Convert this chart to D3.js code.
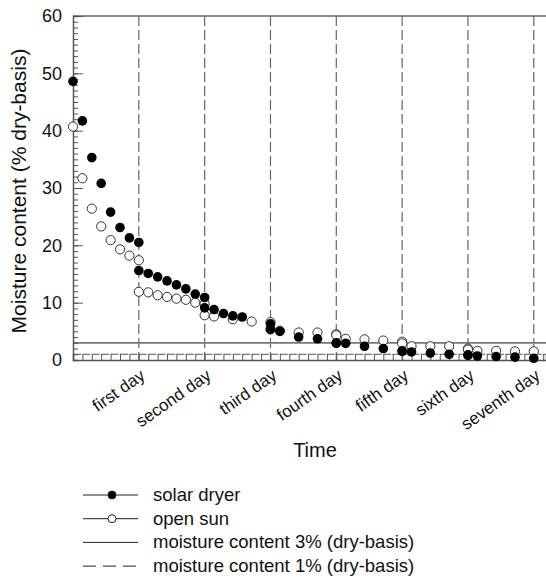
<!DOCTYPE html>
<html>
<head>
<meta charset="utf-8">
<script src="https://cdn.jsdelivr.net/npm/d3@7/dist/d3.min.js"></script>
<style>body{margin:0;background:#fff}</style>
</head>
<body>
<div id="chart"></div>
<script>
// time in hours of drying (7 readings per day), moisture in % dry-basis
const solarHour = [0,1,2,3,4,5,6,7, 7,8,9,10,11,12,13,14, 14,15,16,17,18,21, 21,22,24,26,28, 28,29,31,33,35, 35,36,38,40,42, 42,43,45,47,49];
const solarMoisture = [48.6,41.7,35.3,30.8,25.8,23.1,21.3,20.5, 15.6,15.1,14.5,13.8,13.1,12.4,11.5,10.9, 9.1,8.8,8.1,7.7,7.5,6.3, 5.3,5.0,4.0,3.7,3.0, 2.9,2.9,2.4,2.0,1.6, 1.5,1.4,1.2,1.0,0.9, 0.8,0.7,0.6,0.5,0.3];
const sunHour = [0,1,2,3,4,5,6,7, 7,8,9,10,11,12,13,14, 14,15,17,19,21, 21,22,24,26,28, 28,29,31,33,35, 35,36,38,40,42, 42,43,45,47,49];
const sunMoisture = [40.7,31.7,26.4,23.3,20.9,19.3,18.2,17.4, 11.9,11.8,11.3,11.0,10.7,10.5,10.0,9.8, 7.8,7.6,7.1,6.7,6.6, 5.4,5.1,4.8,4.8,4.5, 4.3,3.7,3.6,3.4,3.2, 2.9,2.4,2.4,2.4,2.0, 1.8,1.6,1.6,1.5,1.5];

const dayEnds = [7,14,21,28,35,42,49];
const dayLabels = ["first day","second day","third day","fourth day","fifth day","sixth day","seventh day"];
const yTicks = [0,10,20,30,40,50,60];
const limits = [3, 1];
const legendLabels = ["solar dryer","open sun","moisture content 3% (dry-basis)","moisture content 1% (dry-basis)"];

const font = "Liberation Sans, Arial, sans-serif";

const svg = d3.select("#chart").append("svg")
  .attr("width", 546)
  .attr("height", 580)
  .style("background", "#fff");

const x = d3.scaleLinear().domain([0, 50.3]).range([73, 546]);
const y = d3.scaleLinear().domain([0, 60]).range([360, 16]);

// frame top
svg.append("line")
  .attr("x1", x(0)).attr("x2", x(50.3))
  .attr("y1", y(60)).attr("y2", y(60))
  .attr("stroke", "#666").attr("stroke-width", 1.5);

// day separators
svg.selectAll(".day-line")
  .data(dayEnds)
  .join("line")
  .attr("class", "day-line")
  .attr("x1", d => x(d)).attr("x2", d => x(d))
  .attr("y1", y(60)).attr("y2", y(0))
  .attr("stroke", "#666")
  .attr("stroke-width", 1.2)
  .attr("stroke-dasharray", "10,4");

// 3% line
svg.append("line")
  .attr("x1", x(0)).attr("x2", x(50.3))
  .attr("y1", y(limits[0])).attr("y2", y(limits[0]))
  .attr("stroke", "#777").attr("stroke-width", 1.8);

// 1% line
svg.append("line")
  .attr("x1", x(0)).attr("x2", x(50.3))
  .attr("y1", y(limits[1])).attr("y2", y(limits[1]))
  .attr("stroke", "#555").attr("stroke-width", 1)
  .attr("stroke-dasharray", "8,1.4");

// y axis: minor ticks inward
const yMinor = svg.append("g")
  .attr("transform", `translate(${x(0)},0)`)
  .call(d3.axisRight(y).tickValues(d3.range(0, 61, 1)).tickSize(5).tickFormat(""));
yMinor.select(".domain").attr("stroke", "#555").attr("stroke-width", 1.5);
yMinor.selectAll(".tick line").attr("stroke", "#555");

const yMajor = svg.append("g")
  .attr("transform", `translate(${x(0)},0)`)
  .call(d3.axisLeft(y).tickValues(yTicks).tickSize(-10).tickPadding(11));
yMajor.select(".domain").remove();
yMajor.selectAll(".tick line").attr("stroke", "#555");
yMajor.selectAll(".tick text")
  .attr("font-family", font)
  .attr("font-size", 18)
  .attr("fill", "#111");

// x axis: hourly ticks pointing up
const xMinor = svg.append("g")
  .attr("transform", `translate(0,${y(0)})`)
  .call(d3.axisBottom(x).tickValues(d3.range(0, 51, 1)).tickSize(-6).tickFormat(""));
xMinor.select(".domain").attr("stroke", "#555").attr("stroke-width", 1.5);
xMinor.selectAll(".tick line").attr("stroke", "#555");

const xLabels = svg.append("g")
  .attr("transform", `translate(0,${y(0)})`)
  .call(d3.axisBottom(x).tickValues(dayEnds).tickSize(0).tickFormat((d, i) => dayLabels[i]));
xLabels.select(".domain").remove();
xLabels.selectAll(".tick text")
  .attr("font-family", font)
  .attr("font-size", 17)
  .attr("fill", "#111")
  .attr("text-anchor", "end")
  .attr("dy", 0)
  .attr("y", 0)
  .attr("transform", "translate(7,18) rotate(-35)");

svg.append("text")
  .text("Time")
  .attr("x", 315).attr("y", 457)
  .attr("text-anchor", "middle")
  .attr("font-family", font)
  .attr("font-size", 20)
  .attr("fill", "#111");

svg.append("text")
  .text("Moisture content (% dry-basis)")
  .attr("transform", "translate(26,191) rotate(-90)")
  .attr("text-anchor", "middle")
  .attr("font-family", font)
  .attr("font-size", 21)
  .attr("fill", "#111");

// markers
svg.selectAll(".sun")
  .data(sunHour)
  .join("circle")
  .attr("class", "sun")
  .attr("cx", d => x(d))
  .attr("cy", (d, i) => y(sunMoisture[i]))
  .attr("r", 4.6)
  .attr("fill", "#fff")
  .attr("stroke", "#333")
  .attr("stroke-width", 1);

svg.selectAll(".solar")
  .data(solarHour)
  .join("circle")
  .attr("class", "solar")
  .attr("cx", d => x(d))
  .attr("cy", (d, i) => y(solarMoisture[i]))
  .attr("r", 4.8)
  .attr("fill", "#000");

// legend
const legend = svg.append("g").attr("transform", "translate(83,495)");
const rows = legend.selectAll("g")
  .data(legendLabels)
  .join("g")
  .attr("transform", (d, i) => `translate(0,${i * 23.7})`);

rows.append("line")
  .attr("x1", 0).attr("x2", 55)
  .attr("stroke", "#222").attr("stroke-width", 1)
  .attr("stroke-dasharray", (d, i) => i === 3 ? "13,7" : null);

rows.filter((d, i) => i < 2).append("circle")
  .attr("cx", 29).attr("r", 4)
  .attr("fill", (d, i) => i === 0 ? "#000" : "#fff")
  .attr("stroke", "#222");

rows.append("text")
  .text(d => d)
  .attr("x", 70).attr("y", 6)
  .attr("font-family", font)
  .attr("font-size", 18.5)
  .attr("fill", "#111");
</script>
</body>
</html>
